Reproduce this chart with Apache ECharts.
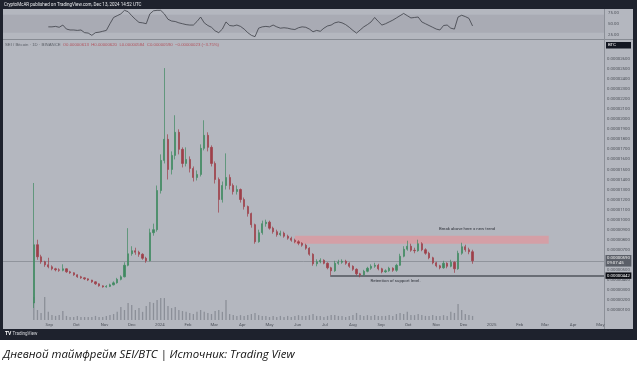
<!DOCTYPE html>
<html><head><meta charset="utf-8">
<script src="https://cdn.jsdelivr.net/npm/echarts@6/dist/echarts.min.js"></script>
<style>html,body{margin:0;padding:0;background:#fff;}#c{width:639px;height:366px;}</style>
</head><body><div id="c"></div>
<script>
// prices in satoshi (1e-8 BTC)
const dates = ['2023-08-15','2023-08-19','2023-08-23','2023-08-27','2023-08-31','2023-09-04','2023-09-08','2023-09-12','2023-09-16','2023-09-20','2023-09-24','2023-09-28','2023-10-02','2023-10-06','2023-10-10','2023-10-14','2023-10-18','2023-10-22','2023-10-26','2023-10-30','2023-11-03','2023-11-07','2023-11-11','2023-11-15','2023-11-19','2023-11-23','2023-11-27','2023-12-01','2023-12-05','2023-12-09','2023-12-13','2023-12-17','2023-12-21','2023-12-25','2023-12-29','2024-01-02','2024-01-06','2024-01-10','2024-01-14','2024-01-18','2024-01-22','2024-01-26','2024-01-30','2024-02-03','2024-02-07','2024-02-11','2024-02-15','2024-02-19','2024-02-23','2024-02-27','2024-03-02','2024-03-06','2024-03-10','2024-03-14','2024-03-18','2024-03-22','2024-03-26','2024-03-30','2024-04-03','2024-04-07','2024-04-11','2024-04-15','2024-04-19','2024-04-23','2024-04-27','2024-05-01','2024-05-05','2024-05-09','2024-05-13','2024-05-17','2024-05-21','2024-05-25','2024-05-29','2024-06-02','2024-06-06','2024-06-10','2024-06-14','2024-06-18','2024-06-22','2024-06-26','2024-06-30','2024-07-04','2024-07-08','2024-07-12','2024-07-16','2024-07-20','2024-07-24','2024-07-28','2024-08-01','2024-08-05','2024-08-09','2024-08-13','2024-08-17','2024-08-21','2024-08-25','2024-08-29','2024-09-02','2024-09-06','2024-09-10','2024-09-14','2024-09-18','2024-09-22','2024-09-26','2024-09-30','2024-10-04','2024-10-08','2024-10-12','2024-10-16','2024-10-20','2024-10-24','2024-10-28','2024-11-01','2024-11-05','2024-11-09','2024-11-13','2024-11-17','2024-11-21','2024-11-25','2024-11-29','2024-12-03','2024-12-07','2024-12-11'];
const opens  = [170,750,630,580,550,530,510,500,495,510,480,470,450,430,420,410,398,380,360,340,330,335,350,370,405,430,545,660,690,675,655,615,590,870,900,1290,1590,1800,1500,1640,1870,1700,1560,1600,1510,1420,1450,1710,1840,1720,1560,1400,1200,1340,1420,1340,1280,1300,1200,1130,1060,950,780,870,960,975,915,880,850,865,835,815,795,780,765,745,715,655,560,580,595,565,520,490,565,575,585,565,535,505,460,450,485,515,535,545,510,480,490,515,495,545,635,705,735,695,690,760,700,665,620,570,540,520,565,535,575,510,665,730,700,680];
const closes = [750,630,580,550,530,510,500,495,510,480,470,450,430,420,410,398,380,360,340,330,335,350,370,405,430,545,660,690,675,655,615,590,870,900,1290,1590,1800,1500,1640,1870,1700,1560,1600,1510,1420,1450,1710,1840,1720,1560,1400,1200,1340,1420,1340,1280,1300,1200,1130,1060,950,780,870,960,975,915,880,850,865,835,815,795,780,765,745,715,655,560,580,595,565,520,490,565,575,585,565,535,505,460,450,485,515,535,545,510,480,490,515,495,545,635,705,735,695,690,760,700,665,620,570,540,520,565,535,575,510,665,730,700,680,590];
const lows   = [120,600,560,530,515,495,485,480,485,470,460,440,420,410,398,388,370,350,332,322,322,328,345,362,395,425,535,640,650,630,600,570,585,840,880,1260,1560,1400,1450,1600,1650,1520,1530,1470,1380,1390,1430,1690,1680,1530,1360,1070,1170,1300,1300,1250,1250,1170,1100,1030,920,760,770,850,930,900,860,830,835,820,800,780,765,745,730,700,640,540,535,565,555,505,445,480,550,560,550,520,490,445,425,440,475,500,520,495,465,470,480,480,480,540,625,690,680,665,680,685,650,605,555,525,505,510,515,525,470,500,650,680,655,560];
const highs  = [1365,800,650,590,620,545,520,515,555,515,490,475,455,440,425,415,400,385,365,345,348,362,385,420,445,575,915,735,720,690,665,630,910,960,1340,1650,2510,1850,1680,2040,1900,1720,1720,1630,1530,1490,1750,1990,1870,1740,1580,1420,1380,1660,1450,1360,1340,1310,1220,1140,1070,960,900,990,1000,990,930,900,890,880,850,830,810,795,775,760,725,665,605,615,605,575,530,590,600,605,600,575,545,515,470,500,530,555,570,560,520,505,530,525,560,660,735,790,760,720,800,775,715,680,630,580,550,590,575,600,585,690,770,750,720,700];
const volumes = [85,37,26,85,30,18,15,18,33,15,11,11,15,11,11,11,11,15,11,11,15,18,22,30,48,37,63,55,37,44,30,52,66,63,74,81,81,52,44,48,37,33,30,26,22,30,37,30,26,22,33,37,30,74,22,18,15,18,15,18,22,26,18,15,15,11,15,11,15,11,15,11,15,18,15,15,18,22,15,15,11,15,18,18,15,15,11,15,18,26,18,15,18,15,18,15,15,15,18,15,22,26,22,30,18,18,22,18,15,15,18,15,15,18,15,30,26,59,37,22,18,15];
const rsiValues = [null,null,null,null,43,43,44,42,47,38,36,36,35,36,30,29,24,30,31,33,35,50,64,68,72,80,77,68,60,53,52,50,72,79,80,80,72,60,56,55,52,50,48,47,47,55,65,52,46,42,34,30,38,54,46,45,47,44,38,30,24,21,40,43,44,43,47,43,40,41,40,38,37,41,43,42,38,32,35,33,40,45,47,52,54,52,48,42,35,29,36,43,48,54,64,55,47,50,54,58,63,68,73,68,63,64,65,54,50,46,42,38,36,46,47,40,38,65,69,66,62,45];

const priceTicks = [100,200,300,400,500,600,700,800,900,1000,1100,1200,1300,1400,1500,1600,1700,1800,1900,2000,2100,2200,2300,2400,2500,2600];
const rsiTicks = [25,50,75];
const monthTicks = ['2023-09-01','2023-10-01','2023-11-01','2023-12-01','2024-01-01','2024-02-01','2024-03-01','2024-04-01','2024-05-01','2024-06-01','2024-07-01','2024-08-01','2024-09-01','2024-10-01','2024-11-01','2024-12-01','2025-01-01','2025-02-01','2025-03-01','2025-04-01','2025-05-01'];
const monthLabels = ['Sep','Oct','Nov','Dec','2024','Feb','Mar','Apr','May','Jun','Jul','Aug','Sep','Oct','Nov','Dec','2025','Feb','Mar','Apr','May'];
const supportLevel = 442;
const supportStart = '2024-07-07';
const resistanceBand = [760, 840];
const resistanceDates = ['2024-05-29', '2025-03-05'];
const notes = [
  {date: '2024-12-05', price: 905, text: 'Break above here = new trend'},
  {date: '2024-09-17', price: 385, text: 'Retention of support level.'}
];
const xRange = ['2023-07-12', '2025-05-05'];

const toTs = d => { const p = d.split('-').map(Number); return Date.UTC(p[0], p[1]-1, p[2]); };
const fmtP = v => (v/1e8).toFixed(8);
const monthTs = monthTicks.map(toTs);
const xMin = toTs(xRange[0]), xMax = toTs(xRange[1]);
const lastClose = closes[closes.length-1];

const chart = echarts.init(document.getElementById('c'), null, {width:639, height:366});
const FONT = 'Roboto';
const axisTxt = '#4e525a';

chart.setOption({
  animation: false,
  backgroundColor: '#ffffff',
  textStyle: {fontFamily: FONT},
  graphic: {elements: [
    {type:'rect', z:-20, shape:{x:0,y:0,width:637,height:340}, style:{fill:'#1e222d'}},
    {type:'rect', z:-19, shape:{x:3,y:9,width:630,height:320}, style:{fill:'#b4b7bf'}},
    {type:'line', z:-18, shape:{x1:3,y1:39.5,x2:633,y2:39.5}, style:{stroke:'#878b93', lineWidth:1}},
    {type:'line', z:-18, shape:{x1:604.5,y1:9,x2:604.5,y2:329}, style:{stroke:'#8c9098', lineWidth:1}},
    {type:'text', z:50, x:4, y:4.5, style:{text:'CryptoMcAR published on TradingView.com, Dec 13, 2024 14:52 UTC', fill:'#e8e9ec', fontSize:4.5, fontFamily:FONT, verticalAlign:'middle'}},
    {type:'text', z:50, x:5, y:44.5, style:{verticalAlign:'middle', fontFamily:FONT, fontSize:4.3,
      text:'{g|SEI / Bitcoin · 1D · BINANCE}  {r|O0.00000613  H0.00000620  L0.00000584  C0.00000590  −0.00000023 (−3.75%)}',
      rich:{g:{fill:'#5c6068', fontSize:4.3}, r:{fill:'#b2525c', fontSize:4.3}}}},
    {type:'rect', z:50, shape:{x:606,y:42,width:25,height:6.5}, style:{fill:'#131722'}},
    {type:'text', z:51, x:608, y:45.3, style:{text:'BTC', fill:'#ffffff', fontSize:4.3, fontFamily:FONT, verticalAlign:'middle'}},
    {type:'text', z:50, x:5, y:334, style:{text:'{b|TV} TradingView', fill:'#d8dadf', fontSize:4.5, fontFamily:FONT, verticalAlign:'middle', rich:{b:{fontWeight:'bold', fontSize:5, fill:'#ffffff'}}}},
    {type:'text', z:50, x:3, y:355, style:{text:'Дневной таймфрейм SEI/BTC | Источник: Trading View', fill:'#111111', fontSize:11.4, fontStyle:'italic', fontFamily:'Open Sans', verticalAlign:'middle'}}
  ]},
  grid: [
    {left:3, right:35, top:9, height:29},
    {left:3, right:35, top:49, height:271}
  ],
  xAxis: [
    {type:'value', gridIndex:0, min:xMin, max:xMax, show:false, splitLine:{show:false}},
    {type:'value', gridIndex:1, min:xMin, max:xMax,
      axisLine:{show:false}, axisTick:{show:false}, splitLine:{show:false},
      axisLabel:{customValues: monthTs, fontSize:4.3, color:axisTxt, margin:2.5, hideOverlap:false,
        formatter: v => { for (let i=0;i<monthTs.length;i++){ if (Math.abs(monthTs[i]-v) < 43200000) return monthLabels[i]; } return ''; }}}
  ],
  yAxis: [
    {type:'value', gridIndex:0, position:'right', min:18, max:83, splitLine:{show:false},
      axisLine:{show:false}, axisTick:{show:false},
      axisLabel:{customValues: rsiTicks, fontSize:4.3, color:axisTxt, margin:4, formatter: v => v.toFixed(2)}},
    {type:'value', gridIndex:1, position:'right', min:0, max:2700, splitLine:{show:false},
      axisLine:{show:false}, axisTick:{show:false},
      axisLabel:{customValues: priceTicks, fontSize:4.3, color:axisTxt, margin:3, formatter: fmtP}},
    {type:'value', gridIndex:1, min:0, max:1000, show:false, splitLine:{show:false}}
  ],
  series: [
    {type:'bar', name:'Volume', xAxisIndex:1, yAxisIndex:2, barWidth:1.3, z:1,
      itemStyle:{color:'#8b8f98'},
      data: dates.map((d,i)=>[toTs(d), volumes[i]])},
    {type:'candlestick', name:'SEI/BTC', xAxisIndex:1, yAxisIndex:1, barWidth:1.7, z:3,
      itemStyle:{color:'#3f8960', color0:'#9e3f49', borderColor:'#3f8960', borderColor0:'#9e3f49', borderWidth:0.7},
      data: dates.map((d,i)=>[toTs(d), opens[i], closes[i], lows[i], highs[i]]),
      markArea:{silent:true, z:1, itemStyle:{color:'#d49fa6'},
        data:[[{coord:[toTs(resistanceDates[0]), resistanceBand[0]]},{coord:[toTs(resistanceDates[1]), resistanceBand[1]]}]]},
      markLine:{silent:true, symbol:['none','none'], z:2,
        data:[
          [{coord:[toTs(supportStart), supportLevel], lineStyle:{color:'#50545c', width:1.6, type:'solid'},
            label:{show:true, position:'end', formatter: fmtP(supportLevel), color:'#fff', backgroundColor:'#0c0e14', fontSize:4.3, padding:[1.2,1.5], distance:1.5}},
           {coord:[xMax, supportLevel]}],
          {yAxis:lastClose, lineStyle:{color:'#878b93', width:0.8, type:'solid'},
            label:{show:true, position:'end', formatter: fmtP(lastClose)+'\n09:07:45', color:'#f0f0f0', backgroundColor:'#5b5f68', fontSize:4.3, lineHeight:5, padding:[0.8,1.5], distance:1.5}}
        ]},
      markPoint:{silent:true, symbol:'rect', symbolSize:1, itemStyle:{color:'rgba(0,0,0,0)'},
        label:{show:true, position:'inside', formatter:'{b}', color:'#30343c', fontSize:4.3},
        data: notes.map(n=>({name:n.text, coord:[toTs(n.date), n.price]}))}
    },
    {type:'line', name:'RSI', xAxisIndex:0, yAxisIndex:0, symbol:'none', z:3,
      lineStyle:{color:'#3d4048', width:0.8},
      data: dates.map((d,i)=>[toTs(d), rsiValues[i]]),
      markArea:{silent:true, itemStyle:{color:'rgba(110,114,124,0.16)'}, data:[[{yAxis:30},{yAxis:70}]]}}
  ]
});
</script></body></html>
